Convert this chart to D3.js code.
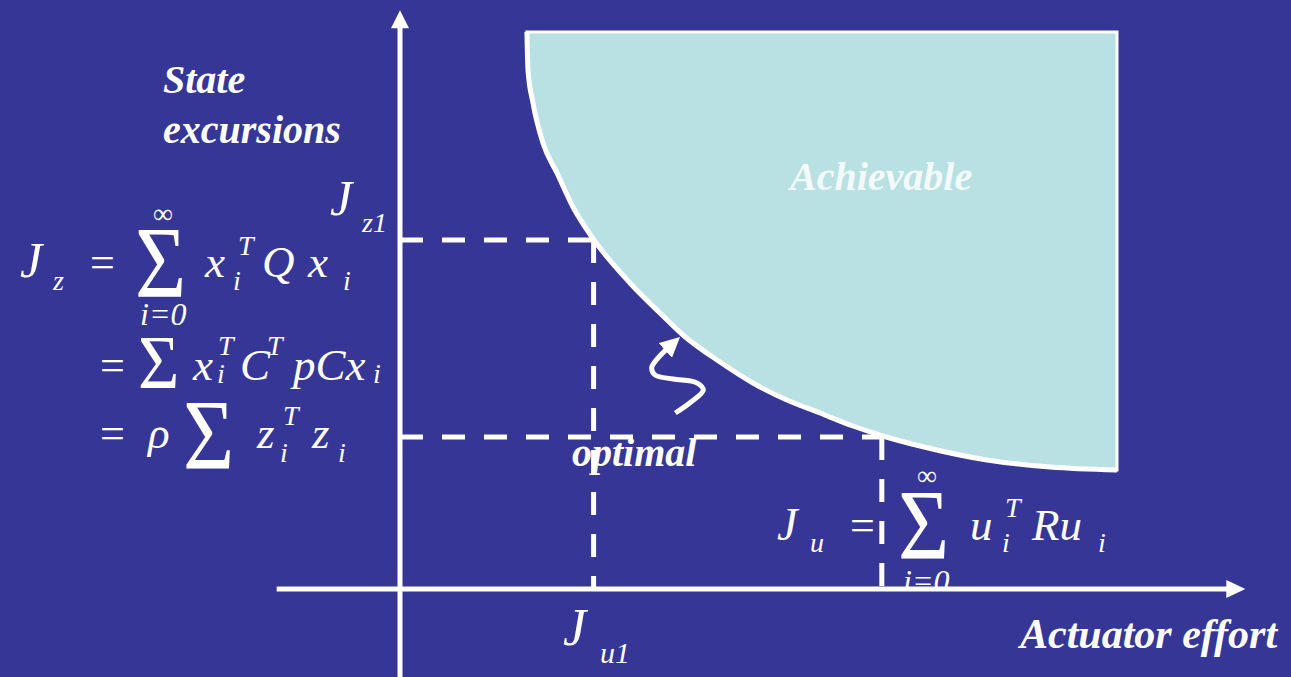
<!DOCTYPE html>
<html>
<head>
<meta charset="utf-8">
<script src="https://d3js.org/d3.v7.min.js"></script>
</head>
<body style="margin:0;background:#363696;font-family:'Liberation Serif',Tinos,'Noto Serif',serif">
<script>

// Pareto frontier of the two costs (actuator effort Ju, state excursions Jz), in % of axis
let frontierJu = [17.7, 17.85, 18.55, 19.94, 21.9, 24.13, 27.06, 32.08, 36.26, 39.47, 44.63, 49.23, 53.97, 58.58, 63.18, 67.36, 72.52, 81.87, 90.66, 100];
let frontierJz = [100, 93.18, 87.25, 80.07, 74.69, 68.58, 62.66, 54.94, 49.55, 45.6, 40.75, 36.98, 33.93, 31.6, 29.26, 27.47, 25.67, 23.16, 21.9, 21.36];

// Operating points
let pointJu1 = 27.0, pointJz1 = 62.66;
let optimalJu = 67.2, optimalJz = 27.3;

// Squiggly arrow pointing at the frontier
let arrowJu = [38.4, 40.4, 42.3, 41.4, 38.1, 35.6, 35.1, 36.0, 37.4];
let arrowJz = [31.6, 33.4, 35.7, 37.0, 37.7, 38.4, 39.7, 41.5, 43.3];

// Axis extents
let axisJu = [-17.2, 117.9];
let axisJz = [-15.8, 103.9];

// Label text, one entry per piece of the slide: [x px, baseline px, text, size, style]
// style: b = bold italic, i = italic, r = upright, s = sum sign (scaleY)
let labelRows = [
	[163, 93, "State", 40, "b"], [163, 143, "excursions", 40, "b"],
	[790, 190, "Achievable", 40, "b"], [572, 466, "optimal", 40, "b"],
	[1020, 648, "Actuator effort", 42, "b"],
	[330, 215, "J", 50, "i"], [362, 232, "z1", 28, "i"],
	[563, 645, "J", 52, "i"], [600, 663, "u1", 30, "i"],
	[20, 277, "J", 50, "i"], [53, 290, "z", 28, "i"], [90, 277, "=", 44, "r"],
	[135, 297, "Σ", 88, "s1.15"], [153, 223, "∞", 28, "r"], [140, 325, "i=0", 32, "i"],
	[205, 277, "x", 45, "i"], [238, 255, "T", 28, "i"], [233, 290, "i", 28, "i"],
	[262, 277, "Q", 45, "i"], [308, 277, "x", 45, "i"], [343, 290, "i", 28, "i"],
	[100, 380, "=", 44, "r"], [138, 388, "Σ", 71, "s1.06"],
	[193, 380, "x", 45, "i"], [218, 355, "T", 28, "i"], [217, 383, "i", 28, "i"],
	[240, 380, "C", 45, "i"], [267, 355, "T", 28, "i"], [293, 380, "pCx", 45, "i"], [373, 383, "i", 28, "i"],
	[100, 448, "=", 44, "r"], [148, 448, "ρ", 45, "i"], [183, 468, "Σ", 88, "s1.12"],
	[257, 448, "z", 45, "i"], [283, 425, "T", 28, "i"], [280, 462, "i", 28, "i"],
	[312, 448, "z", 45, "i"], [338, 462, "i", 28, "i"],
	[777, 540, "J", 46, "i"], [810, 552, "u", 28, "i"], [850, 540, "=", 44, "r"],
	[898, 558, "Σ", 88, "s1.13"], [917, 485, "∞", 28, "r"],
	[970, 540, "u", 45, "i"], [1005, 517, "T", 28, "i"], [1002, 552, "i", 28, "i"],
	[1032, 540, "Ru", 45, "i"], [1098, 552, "i", 28, "i"]
];

let bgColor = "#363696";
let fillColor = "#b9e0e3";

let width = 1291, height = 677;

let svg = d3.select("body").append("svg")
	.attr("width", width)
	.attr("height", height);

svg.append("rect")
	.attr("width", width)
	.attr("height", height)
	.attr("fill", bgColor);

let x = d3.scaleLinear().domain([0, 100]).range([400, 1117]);
let y = d3.scaleLinear().domain([0, 100]).range([589, 32]);

// Achievable region
let frontier = frontierJu.map((d, i) => [d, frontierJz[i]]);
let line = d3.line()
	.x(d => x(d[0]))
	.y(d => y(d[1]))
	.curve(d3.curveMonotoneX);

svg.append("path")
	.attr("d", line(frontier) + "L" + x(100) + "," + y(100) + "Z")
	.attr("fill", fillColor)
	.attr("stroke", "white")
	.attr("stroke-width", 3);

svg.append("path")
	.attr("d", line(frontier))
	.attr("fill", "none")
	.attr("stroke", "white")
	.attr("stroke-width", 5);

// Dashed guides
let dashes = [
	[[0, pointJz1], [pointJu1, pointJz1]],
	[[pointJu1, pointJz1], [pointJu1, 0]],
	[[0, optimalJz], [optimalJu, optimalJz]],
	[[optimalJu, optimalJz], [optimalJu, 0]]
];

svg.selectAll(".guide")
	.data(dashes)
	.enter()
	.append("line")
	.attr("class", "guide")
	.attr("x1", d => x(d[0][0]))
	.attr("y1", d => y(d[0][1]))
	.attr("x2", d => x(d[1][0]))
	.attr("y2", d => y(d[1][1]))
	.attr("stroke", "white")
	.attr("stroke-width", 5)
	.attr("stroke-dasharray", "23,19");

// Axes with arrow heads
svg.append("line")
	.attr("x1", x(axisJu[0])).attr("x2", x(axisJu[1]) - 16)
	.attr("y1", y(0)).attr("y2", y(0))
	.attr("stroke", "white").attr("stroke-width", 5);

svg.append("line")
	.attr("x1", x(0)).attr("x2", x(0))
	.attr("y1", y(axisJz[0])).attr("y2", y(axisJz[1]) + 15)
	.attr("stroke", "white").attr("stroke-width", 5);

let xt = x(axisJu[1]), yt = y(axisJz[1]);
svg.append("path")
	.attr("d", `M${xt},${y(0)}L${xt - 19},${y(0) - 9}L${xt - 19},${y(0) + 9}Z`)
	.attr("fill", "white");
svg.append("path")
	.attr("d", `M${x(0)},${yt}L${x(0) - 9},${yt + 18}L${x(0) + 9},${yt + 18}Z`)
	.attr("fill", "white");

// Squiggle arrow
svg.append("defs").append("marker")
	.attr("id", "head")
	.attr("viewBox", "0 0 10 10")
	.attr("refX", 2).attr("refY", 5)
	.attr("markerWidth", 4).attr("markerHeight", 4)
	.attr("markerUnits", "strokeWidth")
	.attr("orient", "auto")
	.append("path")
	.attr("d", "M0,0L10,5L0,10Z")
	.attr("fill", "white");

let squiggle = arrowJu.map((d, i) => [d, arrowJz[i]]);
svg.append("path")
	.attr("d", d3.line().x(d => x(d[0])).y(d => y(d[1])).curve(d3.curveCatmullRom)(squiggle))
	.attr("fill", "none")
	.attr("stroke", "white")
	.attr("stroke-width", 5)
	.attr("marker-end", "url(#head)");

// the lower limit of the J_u sum is cut by the axis on the slide
svg.append("clipPath").attr("id", "above-axis")
	.append("rect").attr("width", width).attr("height", y(0) - 2);

// Labels, same data join style as a test that rendered the serif face
svg.selectAll(".lbl")
	.data(labelRows)
	.enter()
	.append("text")
	.attr("class", "lbl")
	.attr("transform", d => d[4][0] == "s" ? `translate(${d[0]},${d[1]}) scale(1,${d[4].slice(1)})` : null)
	.attr("x", d => d[4][0] == "s" ? 0 : d[0])
	.attr("y", d => d[4][0] == "s" ? 0 : d[1])
	.attr("fill", d => d[2] == "Achievable" ? "#f2fafa" : "white")
	.style("font-family", d => '"Liberation Serif"')
	.style("font-size", d => d[3] + "px")
	.style("font-style", d => (d[4] == "b" || d[4] == "i") ? "italic" : "normal")
	.style("font-weight", d => d[4] == "b" ? "bold" : "normal")
	.text(d => d[2]);

// i=0 under the J_u sum, clipped at the axis
svg.append("text")
	.attr("x", 903)
	.attr("y", 592)
	.attr("fill", "white")
	.attr("clip-path", "url(#above-axis)")
	.style("font-family", '"Liberation Serif"')
	.style("font-size", "32px")
	.style("font-style", "italic")
	.text("i=0");

</script>
</body>
</html>
